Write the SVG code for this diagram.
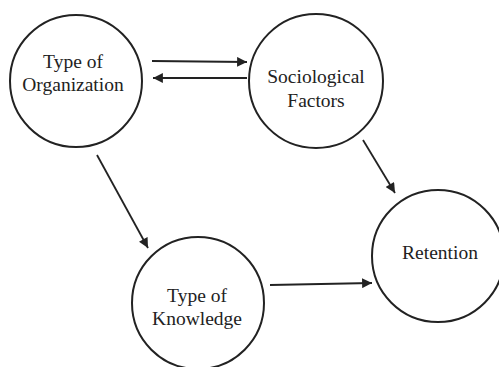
<svg xmlns="http://www.w3.org/2000/svg" width="499" height="367" viewBox="0 0 499 367">
<defs>
<style>
.node circle{fill:#fff;stroke:#222;stroke-width:2}
.node text{font-family:"Liberation Serif","Times New Roman",serif;font-size:19.5px;fill:#222;text-anchor:middle}
#connectors line{stroke:#222;stroke-width:1.8;marker-end:url(#ah)}
</style>
<marker id="ah" viewBox="0 0 10 10" refX="10" refY="5" markerWidth="6" markerHeight="5.5" markerUnits="strokeWidth" orient="auto">
<path d="M0,0 L10,5 L0,10 z" fill="#222"/>
</marker>
</defs>
<rect width="499" height="367" fill="#fff"/>
<g id="n-org" class="node">
<circle cx="76" cy="81" r="66"/>
<text x="73" y="68">Type of</text>
<text x="73" y="91">Organization</text>
</g>
<g id="n-soc" class="node">
<circle cx="316" cy="81" r="67"/>
<text x="316" y="83">Sociological</text>
<text x="316" y="107">Factors</text>
</g>
<g id="n-ret" class="node">
<circle cx="438" cy="256" r="66"/>
<text x="440" y="259">Retention</text>
</g>
<g id="n-know" class="node">
<circle cx="198" cy="303" r="66"/>
<text x="197" y="302">Type of</text>
<text x="197" y="325">Knowledge</text>
</g>
<g id="connectors">
<line x1="152" y1="61" x2="247" y2="62"/>
<line x1="247" y1="78" x2="153" y2="78"/>
<line x1="97" y1="155" x2="148" y2="248"/>
<line x1="363" y1="140" x2="395" y2="193"/>
<line x1="270" y1="285" x2="372" y2="283"/>
</g>
</svg>
